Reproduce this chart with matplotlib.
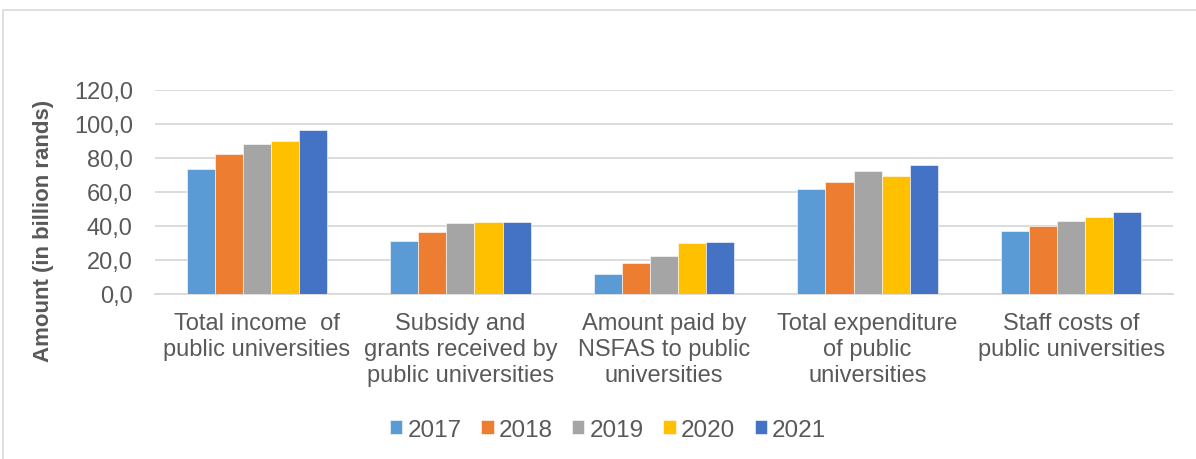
import matplotlib
matplotlib.use("Agg")
import matplotlib.pyplot as plt
from matplotlib.patches import Rectangle
from matplotlib.ticker import FuncFormatter
import numpy as np

plt.rcParams['font.family'] = ['Liberation Sans', 'DejaVu Sans']

# data (billion rands)
categories = ["Total income  of\npublic universities",
              "Subsidy and\ngrants received by\npublic universities",
              "Amount paid by\nNSFAS to public\nuniversities",
              "Total expenditure\nof public\nuniversities",
              "Staff costs of\npublic universities"]
years = ["2017", "2018", "2019", "2020", "2021"]
v2017 = [73.5, 31.2, 11.8, 62.0, 36.9]
v2018 = [82.5, 36.5, 18.1, 65.7, 39.8]
v2019 = [88.0, 42.0, 22.2, 72.6, 43.2]
v2020 = [89.8, 42.5, 30.2, 69.3, 45.5]
v2021 = [96.5, 42.5, 30.8, 76.1, 48.4]
series = [v2017, v2018, v2019, v2020, v2021]
colors = ['#5B9BD5', '#ED7D31', '#A5A5A5', '#FFC000', '#4472C4']

TXT = '#595959'
GRID = '#D9D9D9'

fig = plt.figure(figsize=(11.96, 4.6), dpi=100)
ax = fig.add_axes([155/1196, (460-295)/460, (1173-155)/1196, (295-91)/460])

x = np.arange(len(categories))
w = 0.138
for i, (vals, c, lab) in enumerate(zip(series, colors, years)):
    ax.bar(x + (i - 2) * w, vals, w, color=c, label=lab, edgecolor='white', linewidth=0.4, zorder=3)

ax.set_xlim(-0.5, len(categories) - 0.5)
ax.set_ylim(0, 120)
ax.set_yticks(np.arange(0, 121, 20))
ax.yaxis.set_major_formatter(FuncFormatter(lambda v, p: f"{v:.1f}".replace('.', ',')))
ax.grid(axis='y', color=GRID, linewidth=1.3, zorder=0)
ax.set_axisbelow(True)
for s in ['top', 'right', 'left']:
    ax.spines[s].set_visible(False)
ax.spines['bottom'].set_color(GRID)
ax.spines['bottom'].set_linewidth(1.3)
ax.tick_params(axis='both', length=0, colors=TXT)
ax.tick_params(axis='y', pad=16, labelsize=17)
ax.tick_params(axis='x', pad=13, labelsize=17)
ax.set_xticks(x)
ax.set_xticklabels(categories, color=TXT, linespacing=1.22)
# label sits low in the reference, not centred on the axis
ax.set_ylabel('Amount (in billion rands)', fontsize=16, fontweight='bold', color=TXT)
ax.yaxis.set_label_coords(-0.099, 0.314)

leg = fig.legend(loc='center', bbox_to_anchor=(608/1196, (460-431)/460), ncol=5, frameon=False,
                 fontsize=17.5, handlelength=0.5, handleheight=0.5, handletextpad=0.2, columnspacing=0.82)
for t in leg.get_texts():
    t.set_color(TXT)

# light frame around the chart area
fig.patches.append(Rectangle((3/1196, -0.02), 1.05, (460-11)/460 + 0.02, transform=fig.transFigure,
                             fill=False, edgecolor='#D9D9D9', linewidth=1.2))

fig.savefig('out.png', dpi=100)
